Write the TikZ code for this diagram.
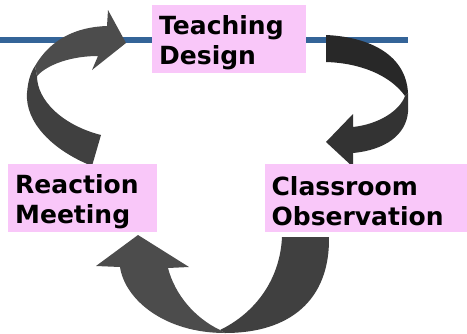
\documentclass[tikz,border=0pt]{standalone}
\usepackage{fontspec}
\setmainfont{DejaVu Sans}
\usetikzlibrary{positioning}

\definecolor{phasepink}{RGB}{249,199,249}
\definecolor{ruleblue}{RGB}{52,100,152}
\definecolor{arrowlight}{RGB}{76,76,76}
\definecolor{arrowmid}{RGB}{64,64,64}
\definecolor{arrowdark}{RGB}{40,40,40}
\definecolor{arrowdim}{RGB}{51,51,51}

\begin{document}
\begin{tikzpicture}[x=1pt,y=-1pt,
    phase/.style={fill=phasepink,font=\fontsize{25}{30}\selectfont\bfseries,
      align=left,inner xsep=7pt,inner ysep=0pt,minimum height=68pt,text width=#1,
      execute at begin node={\rule{0pt}{25pt}}},
    band/.style={fill=#1,draw=none}]
  \useasboundingbox (0,0) rectangle (467,333);

  % rule across the top
  \draw[ruleblue,line width=5.5pt] (0,40) -- (408,40);

  % curved arrow: meeting -> design
  \fill[band=arrowmid] (92,166) .. controls (52,150) and (25,122) .. (27,93)
    .. controls (28,80) and (31,72) .. (35,66) -- (37,76)
    .. controls (37,100) and (62,125) .. (101,135) -- cycle;
  \fill[band=arrowlight] (35,66) .. controls (50,40) and (75,27) .. (107,26)
    -- (108,10) -- (126,43) -- (92,70) -- (98,56)
    .. controls (72,56) and (48,64) .. (37,76) -- cycle;

  % curved arrow: design -> observation
  \fill[band=arrowdark] (326,35) .. controls (370,37) and (406,55) .. (408,93)
    -- (405,96) .. controls (390,75) and (360,63) .. (326,62) -- cycle;
  \fill[band=arrowdim] (408,93) -- (408,112)
    .. controls (406,135) and (385,150) .. (353,153)
    -- (353,167) -- (326,142) -- (353,114) -- (353,127)
    .. controls (380,124) and (400,110) .. (405,96) -- cycle;

  % curved arrow: observation -> meeting
  \fill[band=arrowmid] (282,237) -- (329,237)
    .. controls (330,300) and (290,333) .. (225,333) -- (220,330)
    .. controls (255,313) and (280,280) .. (282,237) -- cycle;
  \fill[band=arrowlight] (220,330) -- (225,333)
    .. controls (165,333) and (125,300) .. (120,267)
    -- (96,266) -- (138,235) -- (189,267) -- (168,268)
    .. controls (175,295) and (195,318) .. (220,330) -- cycle;

  % the three phases
  \node[phase=140pt,anchor=north west] (design) at (152,5) {Teaching\\Design};
  \node[phase=135pt,anchor=north west] (meeting) at (8,164) {Reaction\\Meeting};
  \node[phase=189pt,right=107pt of meeting] (observe) {Classroom\\Observation};
\end{tikzpicture}
\end{document}
